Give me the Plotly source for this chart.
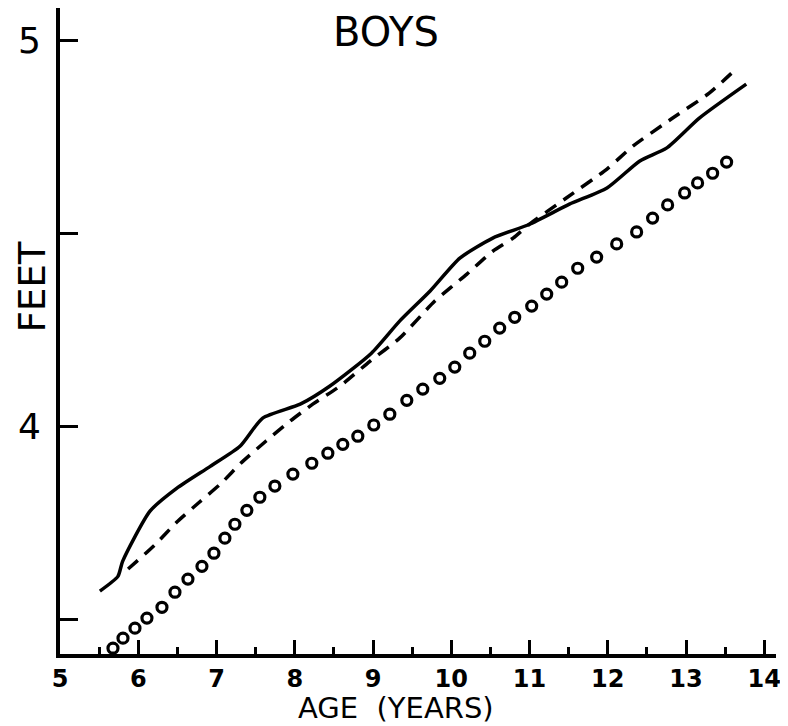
import plotly.graph_objects as go

# Solid curve (age in years, height in feet)
solid_age = [5.51, 5.74, 5.80, 6.15, 6.49, 6.92, 7.30, 7.59, 8.07, 8.45, 8.98, 9.34, 9.73,
             10.11, 10.53, 11.00, 11.51, 11.99, 12.41, 12.75, 13.17, 13.77]
solid_ht = [3.573, 3.611, 3.650, 3.780, 3.839, 3.896, 3.948, 4.021, 4.057, 4.104, 4.189, 4.272, 4.350,
            4.435, 4.487, 4.523, 4.575, 4.617, 4.687, 4.720, 4.798, 4.886]

# Dashed curve
dashed_age = [5.87, 6.21, 6.49, 6.78, 7.06, 7.31, 7.63, 7.94, 8.23, 8.58, 8.96, 9.34, 9.79,
              10.20, 10.53, 10.79, 11.00, 11.47, 11.99, 12.32, 12.83, 13.30, 13.65]
dashed_ht = [3.630, 3.692, 3.751, 3.803, 3.852, 3.904, 3.961, 4.013, 4.057, 4.104, 4.168, 4.228, 4.324,
             4.394, 4.453, 4.487, 4.523, 4.591, 4.666, 4.725, 4.798, 4.863, 4.927]

# Circle series
circle_age = [5.677, 5.805, 5.958, 6.111, 6.303, 6.469, 6.635, 6.814, 6.967, 7.107, 7.235, 7.388,
              7.554, 7.746, 7.976, 8.218, 8.423, 8.614, 8.806, 9.010, 9.215, 9.432, 9.636, 9.853,
              10.045, 10.236, 10.428, 10.619, 10.811, 11.028, 11.220, 11.411, 11.616, 11.858,
              12.114, 12.369, 12.573, 12.765, 12.982, 13.148, 13.340, 13.519]
circle_ht = [3.425, 3.451, 3.477, 3.503, 3.531, 3.570, 3.604, 3.637, 3.671, 3.710, 3.746, 3.782,
             3.816, 3.845, 3.876, 3.904, 3.930, 3.953, 3.974, 4.003, 4.031, 4.067, 4.096, 4.124,
             4.153, 4.189, 4.220, 4.254, 4.282, 4.311, 4.342, 4.373, 4.409, 4.438,
             4.472, 4.503, 4.539, 4.573, 4.604, 4.630, 4.655, 4.684]

x_ticks = [5, 6, 7, 8, 9, 10, 11, 12, 13, 14]
x_tick_labels = ["5", "6", "7", "8", "9", "10", "11", "12", "13", "14"]
y_ticks = [3.5, 4, 4.5, 5]
y_tick_labels = ["", "4", "", "5"]

INK = "#000000"
FONT = "DejaVu Sans"

# page has an 8px body margin; figure sized so it fits the 788x726 window
W, H = 780, 718
L, R, T, B = 52, 12, 0, 72
PH = H - T - B  # plot-area height in px

fig = go.Figure()
fig.add_trace(go.Scatter(x=solid_age, y=solid_ht, mode="lines",
                         line=dict(color=INK, width=3.5, shape="spline", smoothing=0.6),
                         showlegend=False, hoverinfo="skip"))
fig.add_trace(go.Scatter(x=dashed_age, y=dashed_ht, mode="lines",
                         line=dict(color=INK, width=3.5, dash="13px,9px", shape="spline", smoothing=0.6),
                         showlegend=False, hoverinfo="skip"))
fig.add_trace(go.Scatter(x=circle_age, y=circle_ht, mode="markers",
                         marker=dict(symbol="circle-open", size=10, color=INK, line=dict(width=3.2, color=INK)),
                         showlegend=False, hoverinfo="skip"))

fig.update_layout(
    width=W, height=H,
    margin=dict(l=L, r=R, t=T, b=B, pad=0),
    paper_bgcolor="white", plot_bgcolor="white",
    font=dict(family=FONT, color=INK),
    title=dict(text="BOYS", x=378 / W, xanchor="center", y=1 - 24 / H, yanchor="middle",
               font=dict(size=40, family=FONT, color=INK)),
    xaxis=dict(range=[5, 14.15], showgrid=False, zeroline=False, automargin=False,
               showline=True, linewidth=4, linecolor=INK,
               tickvals=x_ticks, ticktext=x_tick_labels, ticks="inside", ticklen=14,
               tickwidth=2.5, tickcolor=INK, ticklabelstandoff=0,
               tickfont=dict(size=24, family=FONT, color=INK, weight="bold"),
               minor=dict(dtick=0.5, tick0=5, ticks="inside", ticklen=7, tickwidth=2.5, tickcolor=INK)),
    yaxis=dict(range=[3.41, 5.083], showgrid=False, zeroline=False, automargin=False,
               showline=True, linewidth=4, linecolor=INK,
               tickvals=y_ticks, ticktext=y_tick_labels, ticks="inside", ticklen=18,
               tickwidth=3, tickcolor=INK, ticklabelstandoff=8,
               tickfont=dict(size=36, family=FONT, color=INK)),
    annotations=[
        dict(text="FEET", x=(24 - L) / (W - L - R), xref="paper", y=4.36, yref="y", showarrow=False,
             textangle=-90, font=dict(size=37, family=FONT, color=INK),
             xanchor="center", yanchor="middle"),
        dict(text="AGE  (YEARS)", x=(388 - L) / (W - L - R), xref="paper", y=(PH - 700) / PH, yref="paper",
             yanchor="middle", xanchor="center", showarrow=False,
             font=dict(size=29, family=FONT, color=INK)),
    ],
)

fig.write_html("out.html")
